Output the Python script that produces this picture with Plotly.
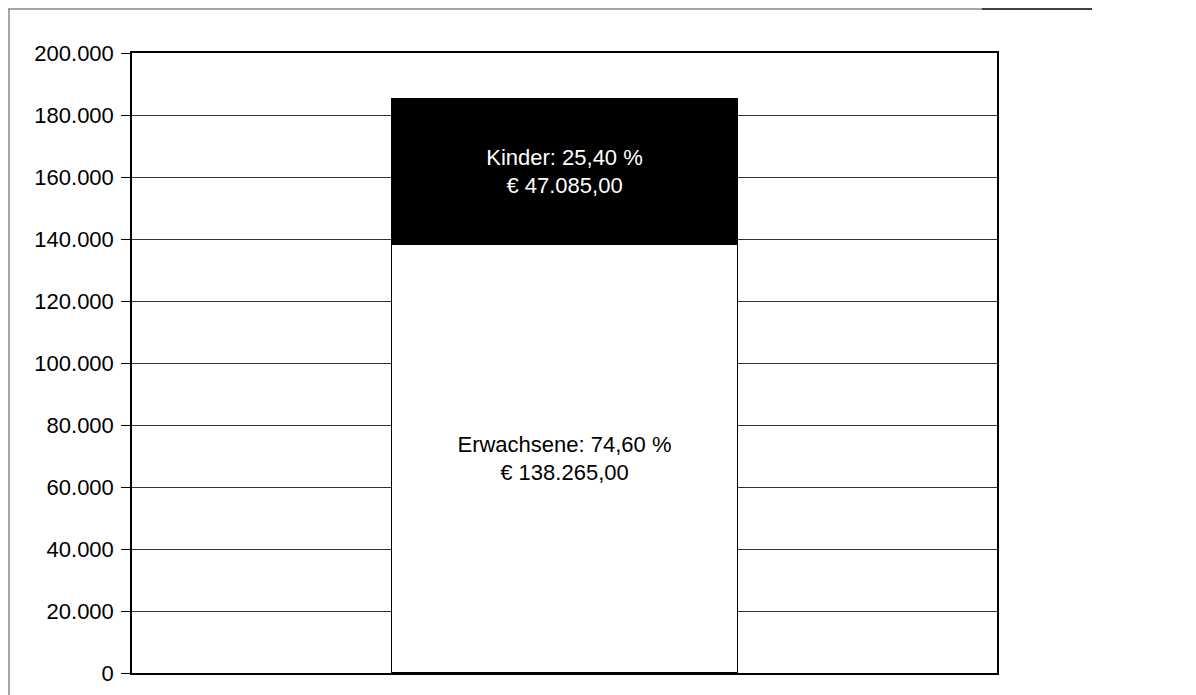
import plotly.graph_objects as go

categories = ["Gesamt"]
series_names = ["Erwachsene", "Kinder"]
erwachsene = [138265]
kinder = [47085]
tick_vals = [0, 20000, 40000, 60000, 80000, 100000, 120000, 140000, 160000, 180000, 200000]
tick_text = ["0", "20.000", "40.000", "60.000", "80.000", "100.000", "120.000",
             "140.000", "160.000", "180.000", "200.000"]


def de_num(v, dec=2):
    s = f"{v:,.{dec}f}"
    return s.replace(",", "X").replace(".", ",").replace("X", ".")


total = erwachsene[0] + kinder[0]
lab_e = [f"Erwachsene: {de_num(erwachsene[0] / total * 100)} %<br>€ {de_num(erwachsene[0])}"]
lab_k = [f"Kinder: {de_num(kinder[0] / total * 100)} %<br>€ {de_num(kinder[0])}"]

FONT = "Liberation Sans, Arial, sans-serif"
FS = 22

# page offset from default body margin
OFF = 8
L, T = 132 - OFF, 53 - OFF
pw, ph = 997 - 132, 673 - 53
R = 1196 - L - pw
B = 695 - T - ph


def px(x):
    return (x - OFF - L) / pw


def py(y):
    return (OFF + T + ph - y) / ph


fig = go.Figure()
fig.add_trace(go.Bar(
    x=categories, y=erwachsene, name=series_names[0],
    marker=dict(color="white", line=dict(color="black", width=1.5)),
    text=lab_e, textposition="inside", insidetextanchor="middle",
    textfont=dict(color="black", size=FS, family=FONT), textangle=0,
))
fig.add_trace(go.Bar(
    x=categories, y=kinder, name=series_names[1],
    marker=dict(color="black", line=dict(color="black", width=1.5)),
    text=lab_k, textposition="inside", insidetextanchor="middle",
    textfont=dict(color="white", size=FS, family=FONT), textangle=0,
))

fig.update_layout(
    width=1196, height=695,
    margin=dict(l=L, r=R, t=T, b=B, autoexpand=False),
    barmode="stack", bargap=0.6,
    showlegend=False,
    plot_bgcolor="white", paper_bgcolor="white",
    font=dict(family=FONT, size=FS, color="black"),
    uniformtext=dict(minsize=10, mode="show"),
    xaxis=dict(showticklabels=False, ticks="", showgrid=False, showline=True,
               linecolor="black", linewidth=1.5, mirror=True, zeroline=False,
               automargin=False),
    yaxis=dict(range=[0, 200000], tickvals=tick_vals, ticktext=tick_text,
               ticks="outside", ticklen=9, tickcolor="black", tickwidth=1,
               ticklabelstandoff=3,
               showgrid=True, gridcolor="#333333", gridwidth=1,
               showline=True, linecolor="black", linewidth=1.5, mirror=True,
               zeroline=False, automargin=False,
               tickfont=dict(size=FS, family=FONT, color="black")),
    shapes=[
        dict(type="line", xref="paper", yref="paper", x0=px(8), x1=px(982), y0=py(9), y1=py(9),
             line=dict(color="#888888", width=1.5)),
        dict(type="line", xref="paper", yref="paper", x0=px(982), x1=px(1092), y0=py(9), y1=py(9),
             line=dict(color="black", width=1.5)),
        dict(type="line", xref="paper", yref="paper", x0=px(9), x1=px(9), y0=py(9), y1=py(700),
             line=dict(color="#888888", width=1.5)),
    ],
)

fig.write_html("out.html")
